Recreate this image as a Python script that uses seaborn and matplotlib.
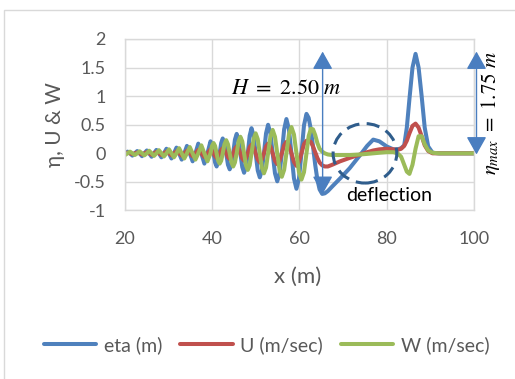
import matplotlib
matplotlib.use('Agg')
import matplotlib.pyplot as plt
from matplotlib.patches import Ellipse, Rectangle
from matplotlib.ticker import FuncFormatter
import pandas as pd
import seaborn as sns

# values (x in m)
X_M = [
    20.0,
    20.6, 21.15, 21.7, 22.25,
    22.8, 23.35, 23.9, 24.45,
    25.0, 25.55, 26.1, 26.65,
    27.2, 27.78, 28.35, 28.93,
    29.5, 30.08, 30.65, 31.23,
    31.8, 32.4, 33.0, 33.6,
    34.2, 34.85, 35.5, 36.15,
    36.8, 37.5, 38.2, 38.9,
    39.6, 39.95, 40.3, 40.65, 41.0, 41.35, 41.7, 42.05,
    42.4, 42.8, 43.2, 43.6, 44.0, 44.4, 44.8, 45.2,
    45.6, 46.03, 46.45, 46.88, 47.3, 47.73, 48.15, 48.58,
    49.0, 49.48, 49.95, 50.43, 50.9, 51.38, 51.85, 52.33,
    52.8, 53.33, 53.85, 54.38, 54.9, 55.43, 55.95, 56.48,
    57.0, 57.58, 58.15, 58.73, 59.3, 59.88, 60.45, 61.03,
    61.6, 62.1, 62.6, 63.1, 63.6, 64.1, 64.6, 65.2, 65.8, 66.5,
    67.5, 69.3, 71.5, 73.9, 75.5, 76.9, 78.3, 80.0, 81.5, 82.5,
    83.3, 84.0, 84.6, 85.2, 85.9, 86.6, 87.3, 88.0, 88.7, 89.5,
    90.5, 92.0, 100.0,
]
ETA = [
    0.0,
    0.03, 0.0, -0.04, 0.0,
    0.04, 0.0, -0.05, 0.0,
    0.05, 0.0, -0.06, 0.0,
    0.06, 0.0, -0.07, 0.0,
    0.08, 0.0, -0.09, 0.0,
    0.10, 0.0, -0.11, 0.0,
    0.13, 0.0, -0.14, 0.0,
    0.17, 0.0, -0.18, 0.0,
    0.21, 0.15, 0.0, -0.16, -0.23, -0.16, 0.0, 0.18,
    0.26, 0.18, 0.0, -0.20, -0.28, -0.20, 0.0, 0.24,
    0.34, 0.24, 0.0, -0.24, -0.34, -0.24, 0.0, 0.31,
    0.44, 0.31, 0.0, -0.30, -0.42, -0.30, 0.0, 0.35,
    0.50, 0.35, 0.0, -0.35, -0.49, -0.35, 0.0, 0.42,
    0.60, 0.42, 0.0, -0.44, -0.62, -0.44, 0.0, 0.49,
    0.69, 0.62, 0.42, 0.12, -0.20, -0.46, -0.63, -0.71, -0.70, -0.66,
    -0.58, -0.44, -0.26, -0.03, 0.13, 0.24, 0.21, 0.12, 0.07, 0.07,
    0.09, 0.14, 0.45, 0.95, 1.50, 1.74, 1.50, 1.00, 0.45, 0.12,
    0.01, 0.0, 0.0,
]
U = [
    0.0,
    0.012, 0.0, -0.015, 0.0,
    0.015, 0.0, -0.02, 0.0,
    0.02, 0.0, -0.025, 0.0,
    0.025, 0.0, -0.03, 0.0,
    0.03, 0.0, -0.035, 0.0,
    0.035, 0.0, -0.04, 0.0,
    0.045, 0.0, -0.05, 0.0,
    0.06, 0.0, -0.065, 0.0,
    0.07, 0.05, 0.0, -0.05, -0.08, -0.05, 0.0, 0.06,
    0.09, 0.06, 0.0, -0.07, -0.10, -0.07, 0.0, 0.08,
    0.12, 0.08, 0.0, -0.09, -0.13, -0.09, 0.0, 0.11,
    0.15, 0.11, 0.0, -0.11, -0.16, -0.11, 0.0, 0.12,
    0.17, 0.12, 0.0, -0.13, -0.19, -0.13, 0.0, 0.14,
    0.20, 0.14, 0.0, -0.15, -0.22, -0.15, 0.0, 0.16,
    0.22, 0.22, 0.20, 0.12, 0.02, -0.08, -0.16, -0.21, -0.23, -0.23,
    -0.20, -0.14, -0.08, -0.02, 0.02, 0.05, 0.07, 0.08, 0.07, 0.06,
    0.08, 0.13, 0.22, 0.35, 0.48, 0.52, 0.45, 0.30, 0.14, 0.04,
    0.0, 0.0, 0.0,
]
W = [
    -0.03,
    0.0, 0.03, 0.0, -0.03,
    0.0, 0.035, 0.0, -0.035,
    0.0, 0.045, 0.0, -0.045,
    0.0, 0.055, 0.0, -0.055,
    0.0, 0.07, 0.0, -0.07,
    0.0, 0.09, 0.0, -0.09,
    0.0, 0.11, 0.0, -0.11,
    0.0, 0.14, 0.0, -0.14,
    0.0, 0.13, 0.18, 0.13, 0.0, -0.13, -0.18, -0.13,
    0.0, 0.16, 0.23, 0.16, 0.0, -0.16, -0.23, -0.16,
    0.0, 0.21, 0.29, 0.21, 0.0, -0.21, -0.29, -0.21,
    0.0, 0.25, 0.35, 0.25, 0.0, -0.25, -0.35, -0.25,
    0.0, 0.29, 0.41, 0.29, 0.0, -0.29, -0.41, -0.29,
    0.0, 0.33, 0.46, 0.33, 0.0, -0.33, -0.46, -0.33,
    0.0, 0.30, 0.43, 0.42, 0.32, 0.18, 0.08, 0.03, 0.0, -0.02,
    -0.03, -0.03, -0.03, -0.02, -0.01, 0.0, 0.01, 0.02, 0.02, 0.0,
    -0.06, -0.20, -0.32, -0.36, -0.20, 0.08, 0.30, 0.30, 0.16, 0.05,
    0.01, 0.0, 0.0,
]
SERIES_LABELS = ['eta (m)', 'U (m/sec)', 'W (m/sec)']
SERIES_COLORS = ['#4F81BD', '#C0504D', '#9BBB59']
X_TICKS = [20, 40, 60, 80, 100]
Y_TICKS = [-1, -0.5, 0, 0.5, 1, 1.5, 2]

GRAY_TEXT = '#595959'
GRID = '#D9D9D9'
ARROW_BLUE = '#4A7EC0'

sns.set_theme(style='white')
plt.rcParams['font.family'] = ['Lato', 'DejaVu Sans']
plt.rcParams['axes.unicode_minus'] = False
plt.rcParams['mathtext.fontset'] = 'stix'

df = pd.DataFrame({'x': X_M, SERIES_LABELS[0]: ETA, SERIES_LABELS[1]: U, SERIES_LABELS[2]: W})

fig = plt.figure(figsize=(5.15, 3.79), dpi=100)
fig.patch.set_facecolor('white')
fig.add_artist(Rectangle((4 / 515, -0.1), 1.2, 1.1 - 10 / 379, transform=fig.transFigure,
                         fill=False, ec=GRID, lw=1.0))
ax = fig.add_axes([0.2427, 0.4446, 0.6777, 0.4525])

for name, color in zip(SERIES_LABELS, SERIES_COLORS):
    sns.lineplot(data=df, x='x', y=name, color=color, lw=2.9, label=name, ax=ax,
                 estimator=None, sort=False, solid_joinstyle='round', solid_capstyle='round')

ax.set_xlim(20, 100)
ax.set_ylim(-1, 2)
ax.set_xticks(X_TICKS)
ax.set_yticks(Y_TICKS)
ax.yaxis.set_major_formatter(FuncFormatter(lambda v, p: f'{v:g}'))
ax.grid(True, color=GRID, lw=1.0)
ax.set_axisbelow(True)
for sp in ax.spines.values():
    sp.set_color(GRID)
    sp.set_linewidth(1.0)
ax.tick_params(axis='both', direction='out', length=5, width=1.0, color=GRID,
               labelcolor=GRAY_TEXT, labelsize=13)
ax.tick_params(axis='y', pad=9)
ax.tick_params(axis='x', pad=10)

ax.set_xlabel('x (m)', fontsize=16, color=GRAY_TEXT)
ax.set_ylabel('η, U & W', fontsize=15, color=GRAY_TEXT)
ax.xaxis.label.set_va('center')
ax.yaxis.label.set_va('center')
ax.xaxis.set_label_coords(0.496, -0.388)
ax.yaxis.set_label_coords(-0.2006, 0.5)

# annotations
ax.add_patch(Ellipse((75.0, 0.0), width=14.6, height=1.04, fill=False, ec='#2F5D8C',
                     lw=2.2, ls=(0, (4.3, 2.4)), zorder=5))
arrow_kw = dict(arrowstyle='<|-|>,head_length=1.1,head_width=0.62', color=ARROW_BLUE,
                lw=1.0, shrinkA=0, shrinkB=0, mutation_scale=10)
ax.annotate('', xy=(65.3, 1.78), xytext=(65.3, -0.71), arrowprops=arrow_kw,
            annotation_clip=False, zorder=6)
ax.annotate('', xy=(100.57, 1.78), xytext=(100.57, -0.02), arrowprops=arrow_kw,
            annotation_clip=False, zorder=6)
ax.text(56.9, 1.14, r'$H\ =\ 2.50\ m$', fontsize=16, ha='center', va='center', color='black')
ax.text(103.67, 0.70, r'$\eta_{max}\ =\ 1.75\ m$', fontsize=15, ha='center', va='center',
        rotation=90, color='black', clip_on=False)
ax.text(80.5, -0.73, 'deflection', fontsize=14, ha='center', va='center', color='black')

handles, labels = ax.get_legend_handles_labels()
ax.get_legend().remove()
fig.legend(handles, labels, loc='center', bbox_to_anchor=(0.518, 0.0897), ncol=3,
           frameon=False, fontsize=14, handlelength=2.7, handletextpad=0.4,
           columnspacing=0.9, labelcolor=GRAY_TEXT)

fig.savefig('out.png', dpi=100)
